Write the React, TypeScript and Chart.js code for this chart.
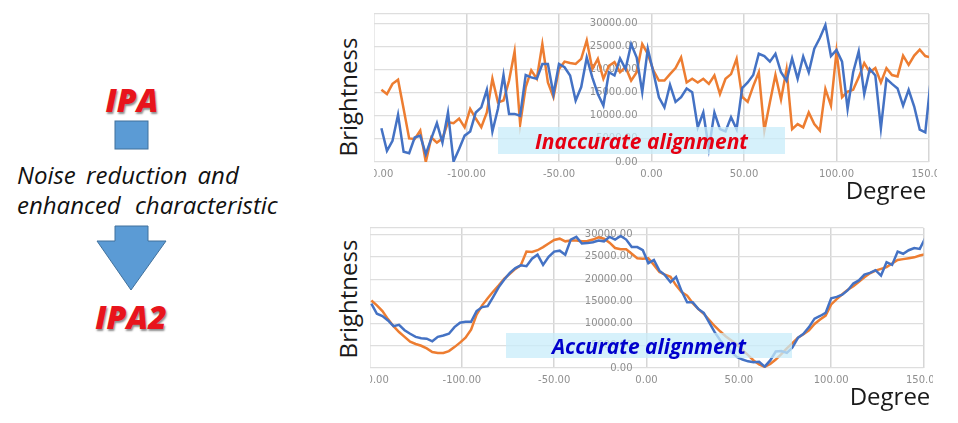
import React, { useEffect, useRef } from "react";
import { Chart, registerables } from "chart.js";

Chart.register(...registerables);

// Degree positions of the samples
const topDegrees = [-146, -143, -140, -137, -134, -131, -128, -125, -122, -119, -116, -113, -110, -107, -104, -101, -98, -95, -92, -89, -86, -83, -80, -77, -74, -71, -68, -65, -62, -59, -56, -53, -50, -47, -44, -41, -38, -35, -32, -29, -26, -23, -20, -17, -14, -11, -8, -5, -2, 1, 4, 7, 10, 13, 16, 19, 22, 25, 28, 31, 34, 37, 40, 43, 46, 49, 52, 55, 58, 61, 64, 67, 70, 73, 76, 79, 82, 85, 88, 91, 94, 97, 100, 103, 106, 109, 112, 115, 118, 121, 124, 127, 130, 133, 136, 139, 142, 145, 148, 151];
const bottomDegrees = [-149, -146, -143, -140, -137, -134, -131, -128, -125, -122, -119, -116, -113, -110, -107, -104, -101, -98, -95, -92, -89, -86, -83, -80, -77, -74, -71, -68, -65, -62, -59, -56, -53, -50, -47, -44, -41, -38, -35, -32, -29, -26, -23, -20, -17, -14, -11, -8, -5, -2, 1, 4, 7, 10, 13, 16, 19, 22, 25, 28, 31, 34, 37, 40, 43, 46, 49, 52, 55, 58, 61, 64, 67, 70, 73, 76, 79, 82, 85, 88, 91, 94, 97, 100, 103, 106, 109, 112, 115, 118, 121, 124, 127, 130, 133, 136, 139, 142, 145, 148, 151];

// IPA (top chart)
const topBlue = [
  7300, 2400, 4600, 10200, 2200, 1900, 5300, 5700, 1700, 5100,
  8400, 4200, 10700, 100, 2800, 5700, 6600, 10700, 11800, 15600,
  6600, 11500, 18800, 10400, 10400, 10000, 18800, 18300, 18000, 21200,
  21200, 14700, 21200, 20500, 18700, 13300, 16200, 22600, 18300, 14700,
  12200, 19400, 18700, 22400, 20100, 25500, 22600, 15100, 24500, 19400,
  14000, 11800, 16700, 13000, 14000, 15900, 15100, 7500, 10700, 2800,
  10700, 7100, 6600, 9700, 7100, 16000, 17200, 18800, 23400, 22900,
  21700, 23400, 19400, 17600, 22400, 18000, 22800, 19400, 24500, 26800,
  29600, 22900, 24200, 21700, 11500, 19400, 23900, 14700, 20100, 18700,
  7300, 18000, 16900, 15900, 12200, 15600, 12000, 7000, 6400, 18000,
];
const topOrange = [
  15600, 14700, 16900, 17800, 11500, 5100, 5000, 6800, 0, 5300,
  4200, 5100, 8600, 8400, 9400, 7500, 11500, 9400, 7500, 10700,
  18000, 12900, 13300, 17600, 23900, 8200, 16200, 19800, 18000, 25500,
  17200, 14000, 20100, 21700, 21400, 21200, 22300, 26300, 20100, 22300,
  18000, 20800, 21600, 19400, 20500, 17600, 19400, 25500, 23400, 19800,
  17600, 17600, 19000, 20300, 22600, 17200, 18000, 17200, 18000, 16900,
  18700, 14700, 18000, 19000, 22300, 14100, 13000, 16400, 19400, 6800,
  12900, 18800, 13500, 20000, 7100, 8200, 7500, 10700, 8200, 6800,
  15800, 12200, 23900, 14000, 15200, 15600, 18300, 21400, 19400, 20300,
  17200, 20300, 18800, 18500, 23000, 21000, 23000, 24300, 22900, 22600,
];

// IPA2 (bottom chart)
const bottomBlue = [
  14500, 12200, 11700, 10700, 9400, 9700, 8500, 7700, 7000, 6700,
  6600, 6000, 7000, 7300, 7700, 9200, 10200, 10400, 10400, 12800,
  13700, 13900, 16000, 18200, 19900, 21400, 22500, 23100, 22900, 24600,
  25500, 23200, 25000, 26200, 26400, 25500, 28900, 29500, 28000, 28100,
  28300, 28700, 28500, 29500, 28900, 29700, 28900, 27200, 27200, 26500,
  23600, 24300, 21900, 20900, 19300, 20500, 17300, 14800, 14800, 13300,
  12400, 10200, 8000, 6200, 4700, 3600, 2500, 1900, 1500, 1300,
  1400, 300, 1700, 3700, 3800, 3400, 4600, 6800, 7700, 9200,
  11100, 11700, 12400, 15700, 16000, 16500, 17500, 19000, 19700, 21000,
  21400, 22000, 20800, 23800, 23200, 26200, 25700, 26500, 27000, 26800,
  29300,
];
const bottomOrange = [
  15200, 14100, 12800, 11000, 9400, 8100, 7000, 5900, 5400, 5000,
  4400, 3600, 3400, 3400, 3800, 4700, 5700, 6800, 8600, 12000,
  14100, 15700, 17200, 18600, 20100, 21200, 22300, 23200, 26200, 26100,
  26500, 27200, 28000, 28800, 29100, 28500, 28700, 28700, 28500, 28600,
  28900, 29400, 29100, 28200, 27000, 26700, 26700, 25700, 24700, 24600,
  24700, 23200, 21600, 21000, 20500, 18600, 17100, 16300, 14600, 13300,
  12200, 10800, 9400, 8200, 7100, 6200, 5300, 4000, 2900, 1700,
  800, 250, 900, 1900, 3100, 4400, 5600, 6800, 7600, 8500,
  9900, 10900, 11800, 14300, 15500, 16600, 17600, 18400, 19400, 20400,
  21300, 21900, 22300, 22700, 23500, 24300, 24500, 24700, 24900, 25300,
  25600,
];

const xTickValues = [-150, -100, -50, 0, 50, 100, 150];
const yTickValues = [0, 5000, 10000, 15000, 20000, 25000, 30000];

const BLUE = "#4472c4";
const ORANGE = "#ed7d31";
const TICK_FONT = '"DejaVu Sans", sans-serif';
const UI_FONT = '"Open Sans", "Noto Sans", sans-serif';

const yLabelPlugin = {
  id: "yLabelsAtZero",
  beforeDatasetsDraw(chart: any) {
    const { ctx, scales } = chart;
    const xs = scales.x;
    const ys = scales.y;
    const px = xs.getPixelForValue(0) - 14;
    ctx.save();
    ctx.font = `10px ${TICK_FONT}`;
    ctx.fillStyle = "#8f8f8f";
    ctx.textAlign = "right";
    ctx.textBaseline = "middle";
    yTickValues.forEach((v) => {
      ctx.fillText(v.toFixed(2), px, ys.getPixelForValue(v));
    });
    ctx.restore();
  },
};

type ChartProps = {
  degrees: number[];
  blue: number[];
  orange: number[];
  yMax: number;
  width: number;
  height: number;
  padLeft: number;
  padRight: number;
};

function LineChart({ degrees, blue, orange, yMax, width, height, padLeft, padRight }: ChartProps) {
  const ref = useRef<HTMLCanvasElement | null>(null);
  useEffect(() => {
    if (!ref.current) return;
    const toPoints = (vals: number[]) =>
      degrees.map((d, i) => ({ x: d, y: vals[i] }));
    const chart = new Chart(ref.current, {
      type: "line",
      data: {
        datasets: [
          {
            data: toPoints(blue),
            borderColor: BLUE,
            borderWidth: 2.5,
            pointRadius: 0,
            tension: 0,
            fill: false,
          },
          {
            data: toPoints(orange),
            borderColor: ORANGE,
            borderWidth: 2.5,
            pointRadius: 0,
            tension: 0,
            fill: false,
          },
        ],
      },
      options: {
        animation: false,
        responsive: false,
        maintainAspectRatio: false,
        events: [],
        layout: { padding: { left: padLeft, right: padRight, top: 10, bottom: 0 } },
        plugins: { legend: { display: false }, tooltip: { enabled: false }, title: { display: false } },
        scales: {
          x: {
            type: "linear",
            min: -150,
            max: 150,
            afterBuildTicks: (scale: any) => {
              scale.ticks = xTickValues.map((v) => ({ value: v }));
            },
            afterFit: (scale: any) => {
              scale.height = 22;
            },
            ticks: {
              callback: (v: any) => Number(v).toFixed(2),
              font: { family: TICK_FONT, size: 10 },
              color: "#8f8f8f",
              padding: 6,
              maxRotation: 0,
              autoSkip: false,
            },
            grid: { color: "#d6d6d6", lineWidth: 1.5, drawTicks: false },
            border: { display: false },
          },
          y: {
            type: "linear",
            min: 0,
            max: yMax,
            afterBuildTicks: (scale: any) => {
              scale.ticks = [...yTickValues, yMax].map((v) => ({ value: v }));
            },
            afterFit: (scale: any) => {
              scale.width = 0;
            },
            ticks: { display: false },
            grid: { color: "#dedede", lineWidth: 1.2, drawTicks: false },
            border: { display: false },
          },
        },
      },
      plugins: [yLabelPlugin],
    });
    return () => chart.destroy();
  }, [degrees, blue, orange, yMax, width, height, padLeft, padRight]);
  return <canvas ref={ref} width={width} height={height} style={{ width, height, display: "block" }} />;
}

const abs = (style: React.CSSProperties): React.CSSProperties => ({ position: "absolute", ...style });

const titleStyle: React.CSSProperties = {
  color: "#e8141c",
  fontSize: 32,
  fontWeight: 800,
  fontStyle: "italic",
  textShadow: "1px 2px 2px rgba(0,0,0,0.45)",
  whiteSpace: "nowrap",
};

export default function App() {
  return (
    <div style={abs({ left: 0, top: 0, width: 958, height: 423, background: "#fff", overflow: "hidden", fontFamily: UI_FONT })}>
      {/* Left side diagram */}
      <svg width={330} height={423} style={abs({ left: 0, top: 0 })}>
        <rect x={115} y={121} width={33} height={28} fill="#5b9bd5" stroke="#41719c" strokeWidth={1} />
        <polygon
          points="115,226 148,226 148,241 166,241 131,290 97,241 115,241"
          fill="#5b9bd5"
          stroke="#41719c"
          strokeWidth={1}
        />
      </svg>
      <div style={abs({ left: 132, top: 99, transform: "translate(-50%, -50%)", ...titleStyle })}>IPA</div>
      <div
        style={abs({
          left: 17,
          top: 174,
          transform: "translateY(-50%)",
          fontSize: 24,
          fontStyle: "italic",
          color: "#111",
          wordSpacing: 4,
          whiteSpace: "nowrap",
        })}
      >
        Noise reduction and
      </div>
      <div
        style={abs({
          left: 17,
          top: 204,
          transform: "translateY(-50%)",
          fontSize: 24,
          fontStyle: "italic",
          color: "#111",
          wordSpacing: 8,
          whiteSpace: "nowrap",
        })}
      >
        enhanced characteristic
      </div>
      <div style={abs({ left: 131, top: 316, transform: "translate(-50%, -50%)", ...titleStyle })}>IPA2</div>

      {/* Top chart (IPA) */}
      <div style={abs({ left: 374, top: 0, width: 563, height: 200, overflow: "hidden" })}>
        <div style={abs({ left: -30, top: 4 })}>
          <LineChart degrees={topDegrees} blue={topBlue} orange={topOrange} yMax={32000} width={626} height={180} padLeft={30} padRight={41} />
        </div>
      </div>
      <div
        style={abs({
          left: 347,
          top: 97,
          transform: "translate(-50%, -50%) rotate(-90deg)",
          fontSize: 24,
          color: "#1a1a1a",
          whiteSpace: "nowrap",
        })}
      >
        Brightness
      </div>
      <div style={abs({ left: 886, top: 189, transform: "translate(-50%, -50%)", fontSize: 24, color: "#1a1a1a", whiteSpace: "nowrap" })}>
        Degree
      </div>
      <div
        style={abs({
          left: 498,
          top: 127,
          width: 287,
          height: 27,
          background: "rgba(200,236,250,0.75)",
          display: "flex",
          alignItems: "center",
          justifyContent: "center",
          color: "#e60012",
          fontSize: 21,
          fontWeight: 700,
          fontStyle: "italic",
          whiteSpace: "nowrap",
        })}
      >
        Inaccurate alignment
      </div>

      {/* Bottom chart (IPA2) */}
      <div style={abs({ left: 370, top: 210, width: 563, height: 185, overflow: "hidden" })}>
        <div style={abs({ left: -30, top: 7.6 })}>
          <LineChart degrees={bottomDegrees} blue={bottomBlue} orange={bottomOrange} yMax={31500} width={626} height={172} padLeft={29.5} padRight={42.5} />
        </div>
      </div>
      <div
        style={abs({
          left: 347,
          top: 299,
          transform: "translate(-50%, -50%) rotate(-90deg)",
          fontSize: 24,
          color: "#1a1a1a",
          whiteSpace: "nowrap",
        })}
      >
        Brightness
      </div>
      <div style={abs({ left: 890, top: 395, transform: "translate(-50%, -50%)", fontSize: 24, color: "#1a1a1a", whiteSpace: "nowrap" })}>
        Degree
      </div>
      <div
        style={abs({
          left: 506,
          top: 333,
          width: 286,
          height: 25,
          background: "rgba(200,236,250,0.75)",
          display: "flex",
          alignItems: "center",
          justifyContent: "center",
          color: "#0000cc",
          fontSize: 21,
          fontWeight: 700,
          fontStyle: "italic",
          whiteSpace: "nowrap",
        })}
      >
        Accurate alignment
      </div>
    </div>
  );
}
